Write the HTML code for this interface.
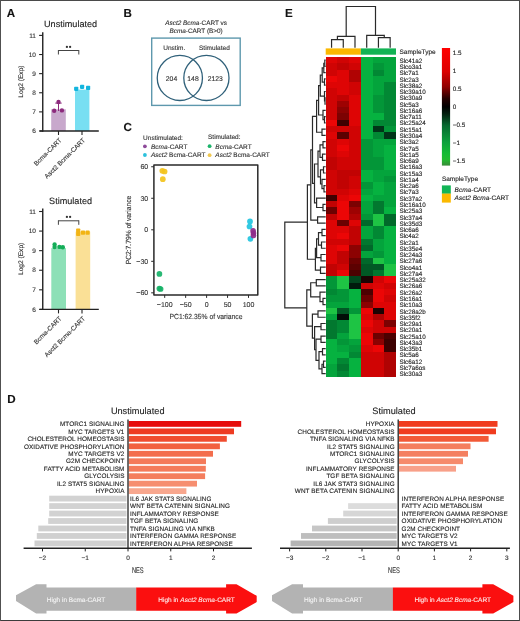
<!DOCTYPE html>
<html><head><meta charset="utf-8"><title>Figure</title>
<style>
html,body{margin:0;padding:0;background:#fff;}
body{width:520px;height:621px;overflow:hidden;}
svg{display:block;will-change:transform;}
svg text{font-family:"Liberation Sans", sans-serif;text-rendering:geometricPrecision;}
</style></head><body>
<svg width="520" height="621" viewBox="0 0 520 621" font-family="Liberation Sans, sans-serif">
<rect x="0.00" y="0.00" width="520.00" height="621.00" fill="#ffffff" />
<rect x="0.00" y="0.00" width="520.00" height="1.00" fill="#4a4a4a" />
<rect x="0.00" y="620.00" width="520.00" height="1.00" fill="#3c3c3c" />
<rect x="0.00" y="0.00" width="1.00" height="621.00" fill="#505050" />
<rect x="519.00" y="0.00" width="1.00" height="621.00" fill="#4c4c4c" />
<text x="6.70" y="16.60" font-size="11.6" text-anchor="start" font-weight="bold" font-style="normal" fill="#111"  stroke="#111" stroke-width="0.12">A</text>
<text x="123.60" y="16.80" font-size="11.6" text-anchor="start" font-weight="bold" font-style="normal" fill="#111"  stroke="#111" stroke-width="0.12">B</text>
<text x="123.60" y="131.20" font-size="11.6" text-anchor="start" font-weight="bold" font-style="normal" fill="#111"  stroke="#111" stroke-width="0.12">C</text>
<text x="7.20" y="403.20" font-size="11.6" text-anchor="start" font-weight="bold" font-style="normal" fill="#111"  stroke="#111" stroke-width="0.12">D</text>
<text x="285.00" y="16.70" font-size="11.6" text-anchor="start" font-weight="bold" font-style="normal" fill="#111"  stroke="#111" stroke-width="0.12">E</text>
<text x="70.60" y="26.90" font-size="9.1" text-anchor="middle" font-weight="normal" font-style="normal" fill="#222"  stroke="#222" stroke-width="0.12">Unstimulated</text>
<rect x="51.20" y="109.30" width="14.60" height="21.70" fill="#c8a8cc" />
<rect x="75.00" y="89.61" width="14.40" height="41.39" fill="#78dff2" />
<circle cx="54.20" cy="110.70" r="2.20" fill="#8c2a7c" />
<circle cx="61.90" cy="110.40" r="2.20" fill="#8c2a7c" />
<circle cx="58.50" cy="102.00" r="2.20" fill="#8c2a7c" />
<rect x="74.10" y="86.70" width="4.2" height="4.2" rx="0.8" fill="#14b5de"/>
<rect x="80.00" y="84.70" width="4.2" height="4.2" rx="0.8" fill="#14b5de"/>
<rect x="86.00" y="85.80" width="4.2" height="4.2" rx="0.8" fill="#14b5de"/>
<line x1="58.50" y1="103.10" x2="58.50" y2="111.00" stroke="#8c2a7c" stroke-width="1.0" />
<line x1="55.30" y1="103.10" x2="61.70" y2="103.10" stroke="#8c2a7c" stroke-width="1.0" />
<line x1="42.75" y1="32.30" x2="42.75" y2="131.70" stroke="#222" stroke-width="1.4" />
<line x1="39.60" y1="131.00" x2="98.80" y2="131.00" stroke="#222" stroke-width="1.4" />
<line x1="39.10" y1="131.00" x2="42.75" y2="131.00" stroke="#222" stroke-width="1.1" />
<text x="35.90" y="133.20" font-size="6.5" text-anchor="end" font-weight="normal" font-style="normal" fill="#333"  stroke="#333" stroke-width="0.12">6</text>
<line x1="39.10" y1="111.88" x2="42.75" y2="111.88" stroke="#222" stroke-width="1.1" />
<text x="35.90" y="114.08" font-size="6.5" text-anchor="end" font-weight="normal" font-style="normal" fill="#333"  stroke="#333" stroke-width="0.12">7</text>
<line x1="39.10" y1="92.76" x2="42.75" y2="92.76" stroke="#222" stroke-width="1.1" />
<text x="35.90" y="94.96" font-size="6.5" text-anchor="end" font-weight="normal" font-style="normal" fill="#333"  stroke="#333" stroke-width="0.12">8</text>
<line x1="39.10" y1="73.64" x2="42.75" y2="73.64" stroke="#222" stroke-width="1.1" />
<text x="35.90" y="75.84" font-size="6.5" text-anchor="end" font-weight="normal" font-style="normal" fill="#333"  stroke="#333" stroke-width="0.12">9</text>
<line x1="39.10" y1="54.52" x2="42.75" y2="54.52" stroke="#222" stroke-width="1.1" />
<text x="35.90" y="56.72" font-size="6.5" text-anchor="end" font-weight="normal" font-style="normal" fill="#333"  stroke="#333" stroke-width="0.12">10</text>
<line x1="39.10" y1="35.40" x2="42.75" y2="35.40" stroke="#222" stroke-width="1.1" />
<text x="35.90" y="37.60" font-size="6.5" text-anchor="end" font-weight="normal" font-style="normal" fill="#333"  stroke="#333" stroke-width="0.12">11</text>
<line x1="58.50" y1="131.00" x2="58.50" y2="135.00" stroke="#222" stroke-width="1.1" />
<line x1="82.00" y1="131.00" x2="82.00" y2="135.00" stroke="#222" stroke-width="1.1" />
<line x1="58.40" y1="50.50" x2="78.80" y2="50.50" stroke="#444" stroke-width="1.0" />
<line x1="58.40" y1="50.00" x2="58.40" y2="54.50" stroke="#444" stroke-width="1.0" />
<line x1="78.80" y1="50.00" x2="78.80" y2="54.50" stroke="#444" stroke-width="1.0" />
<circle cx="66.90" cy="46.90" r="1.15" fill="#333" />
<circle cx="70.10" cy="46.90" r="1.15" fill="#333" />
<text transform="translate(22.9,81.60) rotate(-90)" font-size="6.6" text-anchor="middle" fill="#333" stroke="#333" stroke-width="0.12">Log2 (Exp)</text>
<text transform="translate(62.10,140.60) rotate(-45)" font-size="6.5" text-anchor="end" fill="#333" stroke="#333" stroke-width="0.12">Bcma-CART</text>
<text transform="translate(85.60,140.60) rotate(-45)" font-size="6.5" text-anchor="end" fill="#333" stroke="#333" stroke-width="0.12">Asct2 Bcma-CART</text>
<text x="70.60" y="203.50" font-size="9.1" text-anchor="middle" font-weight="normal" font-style="normal" fill="#222"  stroke="#222" stroke-width="0.12">Stimulated</text>
<rect x="51.30" y="248.11" width="14.70" height="61.29" fill="#8de0b7" />
<rect x="75.60" y="231.67" width="14.60" height="77.73" fill="#fae096" />
<circle cx="54.60" cy="244.40" r="2.20" fill="#14ad58" />
<circle cx="54.60" cy="247.10" r="2.20" fill="#14ad58" />
<circle cx="59.40" cy="246.90" r="2.20" fill="#14ad58" />
<circle cx="62.80" cy="247.30" r="2.20" fill="#14ad58" />
<rect x="76.10" y="228.50" width="4.2" height="4.2" rx="0.8" fill="#f2b414"/>
<rect x="76.10" y="231.90" width="4.2" height="4.2" rx="0.8" fill="#f2b414"/>
<rect x="80.90" y="230.60" width="4.2" height="4.2" rx="0.8" fill="#f2b414"/>
<rect x="85.50" y="230.60" width="4.2" height="4.2" rx="0.8" fill="#f2b414"/>
<line x1="42.75" y1="208.40" x2="42.75" y2="310.10" stroke="#222" stroke-width="1.4" />
<line x1="39.60" y1="309.40" x2="98.80" y2="309.40" stroke="#222" stroke-width="1.4" />
<line x1="39.10" y1="309.40" x2="42.75" y2="309.40" stroke="#222" stroke-width="1.1" />
<text x="35.90" y="311.60" font-size="6.5" text-anchor="end" font-weight="normal" font-style="normal" fill="#333"  stroke="#333" stroke-width="0.12">6</text>
<line x1="39.10" y1="289.82" x2="42.75" y2="289.82" stroke="#222" stroke-width="1.1" />
<text x="35.90" y="292.02" font-size="6.5" text-anchor="end" font-weight="normal" font-style="normal" fill="#333"  stroke="#333" stroke-width="0.12">7</text>
<line x1="39.10" y1="270.24" x2="42.75" y2="270.24" stroke="#222" stroke-width="1.1" />
<text x="35.90" y="272.44" font-size="6.5" text-anchor="end" font-weight="normal" font-style="normal" fill="#333"  stroke="#333" stroke-width="0.12">8</text>
<line x1="39.10" y1="250.66" x2="42.75" y2="250.66" stroke="#222" stroke-width="1.1" />
<text x="35.90" y="252.86" font-size="6.5" text-anchor="end" font-weight="normal" font-style="normal" fill="#333"  stroke="#333" stroke-width="0.12">9</text>
<line x1="39.10" y1="231.08" x2="42.75" y2="231.08" stroke="#222" stroke-width="1.1" />
<text x="35.90" y="233.28" font-size="6.5" text-anchor="end" font-weight="normal" font-style="normal" fill="#333"  stroke="#333" stroke-width="0.12">10</text>
<line x1="39.10" y1="211.50" x2="42.75" y2="211.50" stroke="#222" stroke-width="1.1" />
<text x="35.90" y="213.70" font-size="6.5" text-anchor="end" font-weight="normal" font-style="normal" fill="#333"  stroke="#333" stroke-width="0.12">11</text>
<line x1="58.50" y1="309.40" x2="58.50" y2="313.40" stroke="#222" stroke-width="1.1" />
<line x1="82.00" y1="309.40" x2="82.00" y2="313.40" stroke="#222" stroke-width="1.1" />
<line x1="58.40" y1="220.80" x2="78.80" y2="220.80" stroke="#444" stroke-width="1.0" />
<line x1="58.40" y1="220.30" x2="58.40" y2="224.80" stroke="#444" stroke-width="1.0" />
<line x1="78.80" y1="220.30" x2="78.80" y2="224.80" stroke="#444" stroke-width="1.0" />
<circle cx="66.90" cy="216.90" r="1.15" fill="#333" />
<circle cx="70.10" cy="216.90" r="1.15" fill="#333" />
<text transform="translate(22.9,258.85) rotate(-90)" font-size="6.6" text-anchor="middle" fill="#333" stroke="#333" stroke-width="0.12">Log2 (Exp)</text>
<text transform="translate(62.10,319.00) rotate(-45)" font-size="6.5" text-anchor="end" fill="#333" stroke="#333" stroke-width="0.12">Bcma-CART</text>
<text transform="translate(85.60,319.00) rotate(-45)" font-size="6.5" text-anchor="end" fill="#333" stroke="#333" stroke-width="0.12">Asct2 Bcma-CART</text>
<text x="196.1" y="25.2" font-size="6.4" text-anchor="middle" fill="#333" stroke="#333" stroke-width="0.12"><tspan font-style="italic">Asct2 Bcma</tspan>-CART vs</text>
<text x="196.1" y="33.0" font-size="6.4" text-anchor="middle" fill="#333" stroke="#333" stroke-width="0.12"><tspan font-style="italic">Bcma</tspan>-CART (B&gt;0)</text>
<rect x="151.7" y="38.1" width="88.5" height="67.3" fill="none" stroke="#5e98ad" stroke-width="1.4"/>
<circle cx="179.85" cy="77.9" r="22.6" fill="none" stroke="#30617a" stroke-width="1.3"/>
<circle cx="206.4" cy="77.9" r="22.6" fill="none" stroke="#30617a" stroke-width="1.3"/>
<text x="174.30" y="49.80" font-size="6.5" text-anchor="middle" font-weight="normal" font-style="normal" fill="#333"  stroke="#333" stroke-width="0.12">Unstim.</text>
<text x="214.40" y="49.80" font-size="6.5" text-anchor="middle" font-weight="normal" font-style="normal" fill="#333"  stroke="#333" stroke-width="0.12">Stimulated</text>
<text x="171.50" y="81.00" font-size="6.8" text-anchor="middle" font-weight="normal" font-style="normal" fill="#333"  stroke="#333" stroke-width="0.12">204</text>
<text x="193.00" y="81.00" font-size="6.8" text-anchor="middle" font-weight="normal" font-style="normal" fill="#333"  stroke="#333" stroke-width="0.12">148</text>
<text x="215.20" y="81.00" font-size="6.8" text-anchor="middle" font-weight="normal" font-style="normal" fill="#333"  stroke="#333" stroke-width="0.12">2123</text>
<text x="143.10" y="139.60" font-size="6.5" text-anchor="start" font-weight="normal" font-style="normal" fill="#333"  stroke="#333" stroke-width="0.12">Unstimulated:</text>
<circle cx="144.90" cy="146.30" r="1.90" fill="#8e4a9a" />
<text x="151" y="148.6" font-size="6.5" fill="#333" stroke="#333" stroke-width="0.12"><tspan font-style="italic">Bcma</tspan>-CART</text>
<circle cx="144.90" cy="155.00" r="1.90" fill="#2cc1dc" />
<text x="151" y="157.2" font-size="6.5" fill="#333" stroke="#333" stroke-width="0.12"><tspan font-style="italic">Asct2</tspan> Bcma-CART</text>
<text x="208.00" y="139.40" font-size="6.5" text-anchor="start" font-weight="normal" font-style="normal" fill="#333"  stroke="#333" stroke-width="0.12">Stimulated:</text>
<circle cx="209.60" cy="146.20" r="1.90" fill="#1db46c" />
<text x="215.3" y="148.6" font-size="6.5" fill="#333" stroke="#333" stroke-width="0.12"><tspan font-style="italic">Bcma</tspan>-CART</text>
<circle cx="209.60" cy="155.20" r="1.90" fill="#f0c850" />
<text x="215.3" y="157.2" font-size="6.5" fill="#333" stroke="#333" stroke-width="0.12"><tspan font-style="italic">Asct2</tspan> Bcma-CART</text>
<circle cx="162.30" cy="170.80" r="2.85" fill="#f3c31c" fill-opacity="0.92"/>
<circle cx="164.60" cy="171.50" r="2.85" fill="#f3c31c" fill-opacity="0.92"/>
<circle cx="162.80" cy="179.20" r="2.85" fill="#f3c31c" fill-opacity="0.92"/>
<circle cx="159.40" cy="273.90" r="2.85" fill="#17b268" fill-opacity="0.92"/>
<circle cx="159.40" cy="288.60" r="2.85" fill="#17b268" fill-opacity="0.92"/>
<circle cx="160.60" cy="289.00" r="2.85" fill="#17b268" fill-opacity="0.92"/>
<circle cx="250.00" cy="221.40" r="2.85" fill="#22c4df" fill-opacity="0.92"/>
<circle cx="249.50" cy="226.50" r="2.85" fill="#22c4df" fill-opacity="0.92"/>
<circle cx="250.40" cy="238.80" r="2.85" fill="#22c4df" fill-opacity="0.92"/>
<circle cx="253.10" cy="230.80" r="2.85" fill="#8e2b8a" fill-opacity="0.92"/>
<circle cx="253.50" cy="233.00" r="2.85" fill="#8e2b8a" fill-opacity="0.92"/>
<circle cx="253.50" cy="235.40" r="2.85" fill="#8e2b8a" fill-opacity="0.92"/>
<rect x="153.9" y="164.9" width="103.9" height="130.0" fill="none" stroke="#2a2a2a" stroke-width="1.5" stroke-linejoin="round"/>
<line x1="151.20" y1="166.76" x2="153.90" y2="166.76" stroke="#2a2a2a" stroke-width="1.0" />
<text x="148.20" y="169.16" font-size="7.0" text-anchor="end" font-weight="normal" font-style="normal" fill="#333"  stroke="#333" stroke-width="0.12">60</text>
<line x1="151.20" y1="198.28" x2="153.90" y2="198.28" stroke="#2a2a2a" stroke-width="1.0" />
<text x="148.20" y="200.68" font-size="7.0" text-anchor="end" font-weight="normal" font-style="normal" fill="#333"  stroke="#333" stroke-width="0.12">30</text>
<line x1="151.20" y1="229.80" x2="153.90" y2="229.80" stroke="#2a2a2a" stroke-width="1.0" />
<text x="148.20" y="232.20" font-size="7.0" text-anchor="end" font-weight="normal" font-style="normal" fill="#333"  stroke="#333" stroke-width="0.12">0</text>
<line x1="151.20" y1="261.32" x2="153.90" y2="261.32" stroke="#2a2a2a" stroke-width="1.0" />
<text x="148.20" y="263.72" font-size="7.0" text-anchor="end" font-weight="normal" font-style="normal" fill="#333"  stroke="#333" stroke-width="0.12">&#8722;30</text>
<line x1="151.20" y1="292.84" x2="153.90" y2="292.84" stroke="#2a2a2a" stroke-width="1.0" />
<text x="148.20" y="295.24" font-size="7.0" text-anchor="end" font-weight="normal" font-style="normal" fill="#333"  stroke="#333" stroke-width="0.12">&#8722;60</text>
<line x1="164.70" y1="294.90" x2="164.70" y2="297.90" stroke="#2a2a2a" stroke-width="1.0" />
<text x="164.70" y="307.40" font-size="7.0" text-anchor="middle" font-weight="normal" font-style="normal" fill="#333"  stroke="#333" stroke-width="0.12">&#8722;100</text>
<line x1="185.65" y1="294.90" x2="185.65" y2="297.90" stroke="#2a2a2a" stroke-width="1.0" />
<text x="185.65" y="307.40" font-size="7.0" text-anchor="middle" font-weight="normal" font-style="normal" fill="#333"  stroke="#333" stroke-width="0.12">&#8722;50</text>
<line x1="206.60" y1="294.90" x2="206.60" y2="297.90" stroke="#2a2a2a" stroke-width="1.0" />
<text x="206.60" y="307.40" font-size="7.0" text-anchor="middle" font-weight="normal" font-style="normal" fill="#333"  stroke="#333" stroke-width="0.12">0</text>
<line x1="227.55" y1="294.90" x2="227.55" y2="297.90" stroke="#2a2a2a" stroke-width="1.0" />
<text x="227.55" y="307.40" font-size="7.0" text-anchor="middle" font-weight="normal" font-style="normal" fill="#333"  stroke="#333" stroke-width="0.12">50</text>
<line x1="248.50" y1="294.90" x2="248.50" y2="297.90" stroke="#2a2a2a" stroke-width="1.0" />
<text x="248.50" y="307.40" font-size="7.0" text-anchor="middle" font-weight="normal" font-style="normal" fill="#333"  stroke="#333" stroke-width="0.12">100</text>
<text x="206.0" y="318.6" font-size="7.4" text-anchor="middle" fill="#333" textLength="73" lengthAdjust="spacingAndGlyphs" stroke="#333" stroke-width="0.12">PC1:62.35% of variance</text>
<text transform="translate(130.6,230.0) rotate(-90)" font-size="7.4" text-anchor="middle" fill="#333" textLength="68.7" lengthAdjust="spacingAndGlyphs" stroke="#333" stroke-width="0.12">PC2:7.79% of variance</text>
<rect x="325.70" y="57.00" width="12.32" height="6.87" fill="#de0505" shape-rendering="crispEdges"/>
<rect x="337.42" y="57.00" width="12.32" height="6.87" fill="#d00404" shape-rendering="crispEdges"/>
<rect x="349.13" y="57.00" width="12.32" height="6.87" fill="#de0505" shape-rendering="crispEdges"/>
<rect x="360.85" y="57.00" width="12.32" height="6.87" fill="#06b240" shape-rendering="crispEdges"/>
<rect x="372.57" y="57.00" width="12.32" height="6.87" fill="#04a43c" shape-rendering="crispEdges"/>
<rect x="384.28" y="57.00" width="11.72" height="6.87" fill="#04a43c" shape-rendering="crispEdges"/>
<rect x="325.70" y="63.27" width="12.32" height="6.87" fill="#d00404" shape-rendering="crispEdges"/>
<rect x="337.42" y="63.27" width="12.32" height="6.87" fill="#c10303" shape-rendering="crispEdges"/>
<rect x="349.13" y="63.27" width="12.32" height="6.87" fill="#d00404" shape-rendering="crispEdges"/>
<rect x="360.85" y="63.27" width="12.32" height="6.87" fill="#06b240" shape-rendering="crispEdges"/>
<rect x="372.57" y="63.27" width="12.32" height="6.87" fill="#039638" shape-rendering="crispEdges"/>
<rect x="384.28" y="63.27" width="11.72" height="6.87" fill="#04a43c" shape-rendering="crispEdges"/>
<rect x="325.70" y="69.54" width="12.32" height="6.87" fill="#d00404" shape-rendering="crispEdges"/>
<rect x="337.42" y="69.54" width="12.32" height="6.87" fill="#de0505" shape-rendering="crispEdges"/>
<rect x="349.13" y="69.54" width="12.32" height="6.87" fill="#b00303" shape-rendering="crispEdges"/>
<rect x="360.85" y="69.54" width="12.32" height="6.87" fill="#06b240" shape-rendering="crispEdges"/>
<rect x="372.57" y="69.54" width="12.32" height="6.87" fill="#028834" shape-rendering="crispEdges"/>
<rect x="384.28" y="69.54" width="11.72" height="6.87" fill="#04a43c" shape-rendering="crispEdges"/>
<rect x="325.70" y="75.81" width="12.32" height="6.87" fill="#ec0606" shape-rendering="crispEdges"/>
<rect x="337.42" y="75.81" width="12.32" height="6.87" fill="#de0505" shape-rendering="crispEdges"/>
<rect x="349.13" y="75.81" width="12.32" height="6.87" fill="#b00303" shape-rendering="crispEdges"/>
<rect x="360.85" y="75.81" width="12.32" height="6.87" fill="#06b240" shape-rendering="crispEdges"/>
<rect x="372.57" y="75.81" width="12.32" height="6.87" fill="#04a43c" shape-rendering="crispEdges"/>
<rect x="384.28" y="75.81" width="11.72" height="6.87" fill="#04a43c" shape-rendering="crispEdges"/>
<rect x="325.70" y="82.08" width="12.32" height="6.87" fill="#de0505" shape-rendering="crispEdges"/>
<rect x="337.42" y="82.08" width="12.32" height="6.87" fill="#de0505" shape-rendering="crispEdges"/>
<rect x="349.13" y="82.08" width="12.32" height="6.87" fill="#d00404" shape-rendering="crispEdges"/>
<rect x="360.85" y="82.08" width="12.32" height="6.87" fill="#06b240" shape-rendering="crispEdges"/>
<rect x="372.57" y="82.08" width="12.32" height="6.87" fill="#04a43c" shape-rendering="crispEdges"/>
<rect x="384.28" y="82.08" width="11.72" height="6.87" fill="#028834" shape-rendering="crispEdges"/>
<rect x="325.70" y="88.35" width="12.32" height="6.87" fill="#d00404" shape-rendering="crispEdges"/>
<rect x="337.42" y="88.35" width="12.32" height="6.87" fill="#de0505" shape-rendering="crispEdges"/>
<rect x="349.13" y="88.35" width="12.32" height="6.87" fill="#d00404" shape-rendering="crispEdges"/>
<rect x="360.85" y="88.35" width="12.32" height="6.87" fill="#06b240" shape-rendering="crispEdges"/>
<rect x="372.57" y="88.35" width="12.32" height="6.87" fill="#04a43c" shape-rendering="crispEdges"/>
<rect x="384.28" y="88.35" width="11.72" height="6.87" fill="#028834" shape-rendering="crispEdges"/>
<rect x="325.70" y="94.62" width="12.32" height="6.87" fill="#d00404" shape-rendering="crispEdges"/>
<rect x="337.42" y="94.62" width="12.32" height="6.87" fill="#c10303" shape-rendering="crispEdges"/>
<rect x="349.13" y="94.62" width="12.32" height="6.87" fill="#de0505" shape-rendering="crispEdges"/>
<rect x="360.85" y="94.62" width="12.32" height="6.87" fill="#06b240" shape-rendering="crispEdges"/>
<rect x="372.57" y="94.62" width="12.32" height="6.87" fill="#039638" shape-rendering="crispEdges"/>
<rect x="384.28" y="94.62" width="11.72" height="6.87" fill="#028834" shape-rendering="crispEdges"/>
<rect x="325.70" y="100.89" width="12.32" height="6.87" fill="#d00404" shape-rendering="crispEdges"/>
<rect x="337.42" y="100.89" width="12.32" height="6.87" fill="#9e0202" shape-rendering="crispEdges"/>
<rect x="349.13" y="100.89" width="12.32" height="6.87" fill="#de0505" shape-rendering="crispEdges"/>
<rect x="360.85" y="100.89" width="12.32" height="6.87" fill="#06b240" shape-rendering="crispEdges"/>
<rect x="372.57" y="100.89" width="12.32" height="6.87" fill="#039638" shape-rendering="crispEdges"/>
<rect x="384.28" y="100.89" width="11.72" height="6.87" fill="#028834" shape-rendering="crispEdges"/>
<rect x="325.70" y="107.16" width="12.32" height="6.87" fill="#d00404" shape-rendering="crispEdges"/>
<rect x="337.42" y="107.16" width="12.32" height="6.87" fill="#8c0202" shape-rendering="crispEdges"/>
<rect x="349.13" y="107.16" width="12.32" height="6.87" fill="#de0505" shape-rendering="crispEdges"/>
<rect x="360.85" y="107.16" width="12.32" height="6.87" fill="#06b240" shape-rendering="crispEdges"/>
<rect x="372.57" y="107.16" width="12.32" height="6.87" fill="#039638" shape-rendering="crispEdges"/>
<rect x="384.28" y="107.16" width="11.72" height="6.87" fill="#028834" shape-rendering="crispEdges"/>
<rect x="325.70" y="113.44" width="12.32" height="6.87" fill="#d00404" shape-rendering="crispEdges"/>
<rect x="337.42" y="113.44" width="12.32" height="6.87" fill="#7c0202" shape-rendering="crispEdges"/>
<rect x="349.13" y="113.44" width="12.32" height="6.87" fill="#de0505" shape-rendering="crispEdges"/>
<rect x="360.85" y="113.44" width="12.32" height="6.87" fill="#06b240" shape-rendering="crispEdges"/>
<rect x="372.57" y="113.44" width="12.32" height="6.87" fill="#06b240" shape-rendering="crispEdges"/>
<rect x="384.28" y="113.44" width="11.72" height="6.87" fill="#028834" shape-rendering="crispEdges"/>
<rect x="325.70" y="119.71" width="12.32" height="6.87" fill="#ec0606" shape-rendering="crispEdges"/>
<rect x="337.42" y="119.71" width="12.32" height="6.87" fill="#3e0101" shape-rendering="crispEdges"/>
<rect x="349.13" y="119.71" width="12.32" height="6.87" fill="#de0505" shape-rendering="crispEdges"/>
<rect x="360.85" y="119.71" width="12.32" height="6.87" fill="#06b240" shape-rendering="crispEdges"/>
<rect x="372.57" y="119.71" width="12.32" height="6.87" fill="#028834" shape-rendering="crispEdges"/>
<rect x="384.28" y="119.71" width="11.72" height="6.87" fill="#028834" shape-rendering="crispEdges"/>
<rect x="325.70" y="125.98" width="12.32" height="6.87" fill="#d00404" shape-rendering="crispEdges"/>
<rect x="337.42" y="125.98" width="12.32" height="6.87" fill="#d00404" shape-rendering="crispEdges"/>
<rect x="349.13" y="125.98" width="12.32" height="6.87" fill="#d00404" shape-rendering="crispEdges"/>
<rect x="360.85" y="125.98" width="12.32" height="6.87" fill="#06b240" shape-rendering="crispEdges"/>
<rect x="372.57" y="125.98" width="12.32" height="6.87" fill="#013418" shape-rendering="crispEdges"/>
<rect x="384.28" y="125.98" width="11.72" height="6.87" fill="#039638" shape-rendering="crispEdges"/>
<rect x="325.70" y="132.25" width="12.32" height="6.87" fill="#de0505" shape-rendering="crispEdges"/>
<rect x="337.42" y="132.25" width="12.32" height="6.87" fill="#5c0101" shape-rendering="crispEdges"/>
<rect x="349.13" y="132.25" width="12.32" height="6.87" fill="#d00404" shape-rendering="crispEdges"/>
<rect x="360.85" y="132.25" width="12.32" height="6.87" fill="#06b240" shape-rendering="crispEdges"/>
<rect x="372.57" y="132.25" width="12.32" height="6.87" fill="#028834" shape-rendering="crispEdges"/>
<rect x="384.28" y="132.25" width="11.72" height="6.87" fill="#013418" shape-rendering="crispEdges"/>
<rect x="325.70" y="138.52" width="12.32" height="6.87" fill="#d00404" shape-rendering="crispEdges"/>
<rect x="337.42" y="138.52" width="12.32" height="6.87" fill="#de0505" shape-rendering="crispEdges"/>
<rect x="349.13" y="138.52" width="12.32" height="6.87" fill="#d00404" shape-rendering="crispEdges"/>
<rect x="360.85" y="138.52" width="12.32" height="6.87" fill="#039638" shape-rendering="crispEdges"/>
<rect x="372.57" y="138.52" width="12.32" height="6.87" fill="#04a43c" shape-rendering="crispEdges"/>
<rect x="384.28" y="138.52" width="11.72" height="6.87" fill="#04a43c" shape-rendering="crispEdges"/>
<rect x="325.70" y="144.79" width="12.32" height="6.87" fill="#d00404" shape-rendering="crispEdges"/>
<rect x="337.42" y="144.79" width="12.32" height="6.87" fill="#ec0606" shape-rendering="crispEdges"/>
<rect x="349.13" y="144.79" width="12.32" height="6.87" fill="#d00404" shape-rendering="crispEdges"/>
<rect x="360.85" y="144.79" width="12.32" height="6.87" fill="#039638" shape-rendering="crispEdges"/>
<rect x="372.57" y="144.79" width="12.32" height="6.87" fill="#04a43c" shape-rendering="crispEdges"/>
<rect x="384.28" y="144.79" width="11.72" height="6.87" fill="#06b240" shape-rendering="crispEdges"/>
<rect x="325.70" y="151.06" width="12.32" height="6.87" fill="#d00404" shape-rendering="crispEdges"/>
<rect x="337.42" y="151.06" width="12.32" height="6.87" fill="#de0505" shape-rendering="crispEdges"/>
<rect x="349.13" y="151.06" width="12.32" height="6.87" fill="#d00404" shape-rendering="crispEdges"/>
<rect x="360.85" y="151.06" width="12.32" height="6.87" fill="#039638" shape-rendering="crispEdges"/>
<rect x="372.57" y="151.06" width="12.32" height="6.87" fill="#04a43c" shape-rendering="crispEdges"/>
<rect x="384.28" y="151.06" width="11.72" height="6.87" fill="#06b240" shape-rendering="crispEdges"/>
<rect x="325.70" y="157.33" width="12.32" height="6.87" fill="#c10303" shape-rendering="crispEdges"/>
<rect x="337.42" y="157.33" width="12.32" height="6.87" fill="#d00404" shape-rendering="crispEdges"/>
<rect x="349.13" y="157.33" width="12.32" height="6.87" fill="#d00404" shape-rendering="crispEdges"/>
<rect x="360.85" y="157.33" width="12.32" height="6.87" fill="#039638" shape-rendering="crispEdges"/>
<rect x="372.57" y="157.33" width="12.32" height="6.87" fill="#039638" shape-rendering="crispEdges"/>
<rect x="384.28" y="157.33" width="11.72" height="6.87" fill="#06b240" shape-rendering="crispEdges"/>
<rect x="325.70" y="163.60" width="12.32" height="6.87" fill="#c10303" shape-rendering="crispEdges"/>
<rect x="337.42" y="163.60" width="12.32" height="6.87" fill="#d00404" shape-rendering="crispEdges"/>
<rect x="349.13" y="163.60" width="12.32" height="6.87" fill="#d00404" shape-rendering="crispEdges"/>
<rect x="360.85" y="163.60" width="12.32" height="6.87" fill="#039638" shape-rendering="crispEdges"/>
<rect x="372.57" y="163.60" width="12.32" height="6.87" fill="#039638" shape-rendering="crispEdges"/>
<rect x="384.28" y="163.60" width="11.72" height="6.87" fill="#06b240" shape-rendering="crispEdges"/>
<rect x="325.70" y="169.87" width="12.32" height="6.87" fill="#d00404" shape-rendering="crispEdges"/>
<rect x="337.42" y="169.87" width="12.32" height="6.87" fill="#c10303" shape-rendering="crispEdges"/>
<rect x="349.13" y="169.87" width="12.32" height="6.87" fill="#c10303" shape-rendering="crispEdges"/>
<rect x="360.85" y="169.87" width="12.32" height="6.87" fill="#06b240" shape-rendering="crispEdges"/>
<rect x="372.57" y="169.87" width="12.32" height="6.87" fill="#04a43c" shape-rendering="crispEdges"/>
<rect x="384.28" y="169.87" width="11.72" height="6.87" fill="#04a43c" shape-rendering="crispEdges"/>
<rect x="325.70" y="176.14" width="12.32" height="6.87" fill="#d00404" shape-rendering="crispEdges"/>
<rect x="337.42" y="176.14" width="12.32" height="6.87" fill="#c10303" shape-rendering="crispEdges"/>
<rect x="349.13" y="176.14" width="12.32" height="6.87" fill="#d00404" shape-rendering="crispEdges"/>
<rect x="360.85" y="176.14" width="12.32" height="6.87" fill="#06b240" shape-rendering="crispEdges"/>
<rect x="372.57" y="176.14" width="12.32" height="6.87" fill="#04a43c" shape-rendering="crispEdges"/>
<rect x="384.28" y="176.14" width="11.72" height="6.87" fill="#039638" shape-rendering="crispEdges"/>
<rect x="325.70" y="182.41" width="12.32" height="6.87" fill="#d00404" shape-rendering="crispEdges"/>
<rect x="337.42" y="182.41" width="12.32" height="6.87" fill="#c10303" shape-rendering="crispEdges"/>
<rect x="349.13" y="182.41" width="12.32" height="6.87" fill="#d00404" shape-rendering="crispEdges"/>
<rect x="360.85" y="182.41" width="12.32" height="6.87" fill="#039638" shape-rendering="crispEdges"/>
<rect x="372.57" y="182.41" width="12.32" height="6.87" fill="#06b240" shape-rendering="crispEdges"/>
<rect x="384.28" y="182.41" width="11.72" height="6.87" fill="#04a43c" shape-rendering="crispEdges"/>
<rect x="325.70" y="188.68" width="12.32" height="6.87" fill="#d00404" shape-rendering="crispEdges"/>
<rect x="337.42" y="188.68" width="12.32" height="6.87" fill="#d00404" shape-rendering="crispEdges"/>
<rect x="349.13" y="188.68" width="12.32" height="6.87" fill="#de0505" shape-rendering="crispEdges"/>
<rect x="360.85" y="188.68" width="12.32" height="6.87" fill="#04a43c" shape-rendering="crispEdges"/>
<rect x="372.57" y="188.68" width="12.32" height="6.87" fill="#06b240" shape-rendering="crispEdges"/>
<rect x="384.28" y="188.68" width="11.72" height="6.87" fill="#04a43c" shape-rendering="crispEdges"/>
<rect x="325.70" y="194.95" width="12.32" height="6.87" fill="#3e0101" shape-rendering="crispEdges"/>
<rect x="337.42" y="194.95" width="12.32" height="6.87" fill="#de0505" shape-rendering="crispEdges"/>
<rect x="349.13" y="194.95" width="12.32" height="6.87" fill="#ec0606" shape-rendering="crispEdges"/>
<rect x="360.85" y="194.95" width="12.32" height="6.87" fill="#06b240" shape-rendering="crispEdges"/>
<rect x="372.57" y="194.95" width="12.32" height="6.87" fill="#04a43c" shape-rendering="crispEdges"/>
<rect x="384.28" y="194.95" width="11.72" height="6.87" fill="#04a43c" shape-rendering="crispEdges"/>
<rect x="325.70" y="201.22" width="12.32" height="6.87" fill="#c10303" shape-rendering="crispEdges"/>
<rect x="337.42" y="201.22" width="12.32" height="6.87" fill="#ec0606" shape-rendering="crispEdges"/>
<rect x="349.13" y="201.22" width="12.32" height="6.87" fill="#7c0202" shape-rendering="crispEdges"/>
<rect x="360.85" y="201.22" width="12.32" height="6.87" fill="#04a43c" shape-rendering="crispEdges"/>
<rect x="372.57" y="201.22" width="12.32" height="6.87" fill="#02782f" shape-rendering="crispEdges"/>
<rect x="384.28" y="201.22" width="11.72" height="6.87" fill="#04a43c" shape-rendering="crispEdges"/>
<rect x="325.70" y="207.49" width="12.32" height="6.87" fill="#6c0101" shape-rendering="crispEdges"/>
<rect x="337.42" y="207.49" width="12.32" height="6.87" fill="#ec0606" shape-rendering="crispEdges"/>
<rect x="349.13" y="207.49" width="12.32" height="6.87" fill="#9e0202" shape-rendering="crispEdges"/>
<rect x="360.85" y="207.49" width="12.32" height="6.87" fill="#04a43c" shape-rendering="crispEdges"/>
<rect x="372.57" y="207.49" width="12.32" height="6.87" fill="#02782f" shape-rendering="crispEdges"/>
<rect x="384.28" y="207.49" width="11.72" height="6.87" fill="#06b240" shape-rendering="crispEdges"/>
<rect x="325.70" y="213.76" width="12.32" height="6.87" fill="#c10303" shape-rendering="crispEdges"/>
<rect x="337.42" y="213.76" width="12.32" height="6.87" fill="#ec0606" shape-rendering="crispEdges"/>
<rect x="349.13" y="213.76" width="12.32" height="6.87" fill="#b00303" shape-rendering="crispEdges"/>
<rect x="360.85" y="213.76" width="12.32" height="6.87" fill="#039638" shape-rendering="crispEdges"/>
<rect x="372.57" y="213.76" width="12.32" height="6.87" fill="#1ec444" shape-rendering="crispEdges"/>
<rect x="384.28" y="213.76" width="11.72" height="6.87" fill="#01682a" shape-rendering="crispEdges"/>
<rect x="325.70" y="220.04" width="12.32" height="6.87" fill="#de0505" shape-rendering="crispEdges"/>
<rect x="337.42" y="220.04" width="12.32" height="6.87" fill="#6c0101" shape-rendering="crispEdges"/>
<rect x="349.13" y="220.04" width="12.32" height="6.87" fill="#de0505" shape-rendering="crispEdges"/>
<rect x="360.85" y="220.04" width="12.32" height="6.87" fill="#01682a" shape-rendering="crispEdges"/>
<rect x="372.57" y="220.04" width="12.32" height="6.87" fill="#1ec444" shape-rendering="crispEdges"/>
<rect x="384.28" y="220.04" width="11.72" height="6.87" fill="#01682a" shape-rendering="crispEdges"/>
<rect x="325.70" y="226.31" width="12.32" height="6.87" fill="#de0505" shape-rendering="crispEdges"/>
<rect x="337.42" y="226.31" width="12.32" height="6.87" fill="#de0505" shape-rendering="crispEdges"/>
<rect x="349.13" y="226.31" width="12.32" height="6.87" fill="#c10303" shape-rendering="crispEdges"/>
<rect x="360.85" y="226.31" width="12.32" height="6.87" fill="#04a43c" shape-rendering="crispEdges"/>
<rect x="372.57" y="226.31" width="12.32" height="6.87" fill="#028834" shape-rendering="crispEdges"/>
<rect x="384.28" y="226.31" width="11.72" height="6.87" fill="#06b240" shape-rendering="crispEdges"/>
<rect x="325.70" y="232.58" width="12.32" height="6.87" fill="#de0505" shape-rendering="crispEdges"/>
<rect x="337.42" y="232.58" width="12.32" height="6.87" fill="#ec0606" shape-rendering="crispEdges"/>
<rect x="349.13" y="232.58" width="12.32" height="6.87" fill="#c10303" shape-rendering="crispEdges"/>
<rect x="360.85" y="232.58" width="12.32" height="6.87" fill="#04a43c" shape-rendering="crispEdges"/>
<rect x="372.57" y="232.58" width="12.32" height="6.87" fill="#028834" shape-rendering="crispEdges"/>
<rect x="384.28" y="232.58" width="11.72" height="6.87" fill="#06b240" shape-rendering="crispEdges"/>
<rect x="325.70" y="238.85" width="12.32" height="6.87" fill="#d00404" shape-rendering="crispEdges"/>
<rect x="337.42" y="238.85" width="12.32" height="6.87" fill="#d00404" shape-rendering="crispEdges"/>
<rect x="349.13" y="238.85" width="12.32" height="6.87" fill="#c10303" shape-rendering="crispEdges"/>
<rect x="360.85" y="238.85" width="12.32" height="6.87" fill="#02782f" shape-rendering="crispEdges"/>
<rect x="372.57" y="238.85" width="12.32" height="6.87" fill="#04a43c" shape-rendering="crispEdges"/>
<rect x="384.28" y="238.85" width="11.72" height="6.87" fill="#06b240" shape-rendering="crispEdges"/>
<rect x="325.70" y="245.12" width="12.32" height="6.87" fill="#de0505" shape-rendering="crispEdges"/>
<rect x="337.42" y="245.12" width="12.32" height="6.87" fill="#ec0606" shape-rendering="crispEdges"/>
<rect x="349.13" y="245.12" width="12.32" height="6.87" fill="#8c0202" shape-rendering="crispEdges"/>
<rect x="360.85" y="245.12" width="12.32" height="6.87" fill="#01682a" shape-rendering="crispEdges"/>
<rect x="372.57" y="245.12" width="12.32" height="6.87" fill="#04a43c" shape-rendering="crispEdges"/>
<rect x="384.28" y="245.12" width="11.72" height="6.87" fill="#06b240" shape-rendering="crispEdges"/>
<rect x="325.70" y="251.39" width="12.32" height="6.87" fill="#de0505" shape-rendering="crispEdges"/>
<rect x="337.42" y="251.39" width="12.32" height="6.87" fill="#c10303" shape-rendering="crispEdges"/>
<rect x="349.13" y="251.39" width="12.32" height="6.87" fill="#8c0202" shape-rendering="crispEdges"/>
<rect x="360.85" y="251.39" width="12.32" height="6.87" fill="#04a43c" shape-rendering="crispEdges"/>
<rect x="372.57" y="251.39" width="12.32" height="6.87" fill="#039638" shape-rendering="crispEdges"/>
<rect x="384.28" y="251.39" width="11.72" height="6.87" fill="#06b240" shape-rendering="crispEdges"/>
<rect x="325.70" y="257.66" width="12.32" height="6.87" fill="#de0505" shape-rendering="crispEdges"/>
<rect x="337.42" y="257.66" width="12.32" height="6.87" fill="#c10303" shape-rendering="crispEdges"/>
<rect x="349.13" y="257.66" width="12.32" height="6.87" fill="#6c0101" shape-rendering="crispEdges"/>
<rect x="360.85" y="257.66" width="12.32" height="6.87" fill="#01682a" shape-rendering="crispEdges"/>
<rect x="372.57" y="257.66" width="12.32" height="6.87" fill="#1ec444" shape-rendering="crispEdges"/>
<rect x="384.28" y="257.66" width="11.72" height="6.87" fill="#06b240" shape-rendering="crispEdges"/>
<rect x="325.70" y="263.93" width="12.32" height="6.87" fill="#c10303" shape-rendering="crispEdges"/>
<rect x="337.42" y="263.93" width="12.32" height="6.87" fill="#d00404" shape-rendering="crispEdges"/>
<rect x="349.13" y="263.93" width="12.32" height="6.87" fill="#5c0101" shape-rendering="crispEdges"/>
<rect x="360.85" y="263.93" width="12.32" height="6.87" fill="#015825" shape-rendering="crispEdges"/>
<rect x="372.57" y="263.93" width="12.32" height="6.87" fill="#015825" shape-rendering="crispEdges"/>
<rect x="384.28" y="263.93" width="11.72" height="6.87" fill="#1ec444" shape-rendering="crispEdges"/>
<rect x="325.70" y="270.20" width="12.32" height="6.87" fill="#c10303" shape-rendering="crispEdges"/>
<rect x="337.42" y="270.20" width="12.32" height="6.87" fill="#ec0606" shape-rendering="crispEdges"/>
<rect x="349.13" y="270.20" width="12.32" height="6.87" fill="#4c0101" shape-rendering="crispEdges"/>
<rect x="360.85" y="270.20" width="12.32" height="6.87" fill="#015825" shape-rendering="crispEdges"/>
<rect x="372.57" y="270.20" width="12.32" height="6.87" fill="#02782f" shape-rendering="crispEdges"/>
<rect x="384.28" y="270.20" width="11.72" height="6.87" fill="#1ec444" shape-rendering="crispEdges"/>
<rect x="325.70" y="276.47" width="12.32" height="6.87" fill="#039638" shape-rendering="crispEdges"/>
<rect x="337.42" y="276.47" width="12.32" height="6.87" fill="#1ec444" shape-rendering="crispEdges"/>
<rect x="349.13" y="276.47" width="12.32" height="6.87" fill="#01461e" shape-rendering="crispEdges"/>
<rect x="360.85" y="276.47" width="12.32" height="6.87" fill="#1c0303" shape-rendering="crispEdges"/>
<rect x="372.57" y="276.47" width="12.32" height="6.87" fill="#d00404" shape-rendering="crispEdges"/>
<rect x="384.28" y="276.47" width="11.72" height="6.87" fill="#ec0606" shape-rendering="crispEdges"/>
<rect x="325.70" y="282.74" width="12.32" height="6.87" fill="#039638" shape-rendering="crispEdges"/>
<rect x="337.42" y="282.74" width="12.32" height="6.87" fill="#1ec444" shape-rendering="crispEdges"/>
<rect x="349.13" y="282.74" width="12.32" height="6.87" fill="#011a0d" shape-rendering="crispEdges"/>
<rect x="360.85" y="282.74" width="12.32" height="6.87" fill="#d00404" shape-rendering="crispEdges"/>
<rect x="372.57" y="282.74" width="12.32" height="6.87" fill="#de0505" shape-rendering="crispEdges"/>
<rect x="384.28" y="282.74" width="11.72" height="6.87" fill="#d00404" shape-rendering="crispEdges"/>
<rect x="325.70" y="289.01" width="12.32" height="6.87" fill="#028834" shape-rendering="crispEdges"/>
<rect x="337.42" y="289.01" width="12.32" height="6.87" fill="#039638" shape-rendering="crispEdges"/>
<rect x="349.13" y="289.01" width="12.32" height="6.87" fill="#06b240" shape-rendering="crispEdges"/>
<rect x="360.85" y="289.01" width="12.32" height="6.87" fill="#4c0101" shape-rendering="crispEdges"/>
<rect x="372.57" y="289.01" width="12.32" height="6.87" fill="#ec0606" shape-rendering="crispEdges"/>
<rect x="384.28" y="289.01" width="11.72" height="6.87" fill="#de0505" shape-rendering="crispEdges"/>
<rect x="325.70" y="295.28" width="12.32" height="6.87" fill="#039638" shape-rendering="crispEdges"/>
<rect x="337.42" y="295.28" width="12.32" height="6.87" fill="#039638" shape-rendering="crispEdges"/>
<rect x="349.13" y="295.28" width="12.32" height="6.87" fill="#06b240" shape-rendering="crispEdges"/>
<rect x="360.85" y="295.28" width="12.32" height="6.87" fill="#6c0101" shape-rendering="crispEdges"/>
<rect x="372.57" y="295.28" width="12.32" height="6.87" fill="#ec0606" shape-rendering="crispEdges"/>
<rect x="384.28" y="295.28" width="11.72" height="6.87" fill="#d00404" shape-rendering="crispEdges"/>
<rect x="325.70" y="301.55" width="12.32" height="6.87" fill="#04a43c" shape-rendering="crispEdges"/>
<rect x="337.42" y="301.55" width="12.32" height="6.87" fill="#04a43c" shape-rendering="crispEdges"/>
<rect x="349.13" y="301.55" width="12.32" height="6.87" fill="#06b240" shape-rendering="crispEdges"/>
<rect x="360.85" y="301.55" width="12.32" height="6.87" fill="#8c0202" shape-rendering="crispEdges"/>
<rect x="372.57" y="301.55" width="12.32" height="6.87" fill="#de0505" shape-rendering="crispEdges"/>
<rect x="384.28" y="301.55" width="11.72" height="6.87" fill="#de0505" shape-rendering="crispEdges"/>
<rect x="325.70" y="307.82" width="12.32" height="6.87" fill="#1ec444" shape-rendering="crispEdges"/>
<rect x="337.42" y="307.82" width="12.32" height="6.87" fill="#015825" shape-rendering="crispEdges"/>
<rect x="349.13" y="307.82" width="12.32" height="6.87" fill="#039638" shape-rendering="crispEdges"/>
<rect x="360.85" y="307.82" width="12.32" height="6.87" fill="#ec0606" shape-rendering="crispEdges"/>
<rect x="372.57" y="307.82" width="12.32" height="6.87" fill="#1c0303" shape-rendering="crispEdges"/>
<rect x="384.28" y="307.82" width="11.72" height="6.87" fill="#de0505" shape-rendering="crispEdges"/>
<rect x="325.70" y="314.09" width="12.32" height="6.87" fill="#04a43c" shape-rendering="crispEdges"/>
<rect x="337.42" y="314.09" width="12.32" height="6.87" fill="#020e08" shape-rendering="crispEdges"/>
<rect x="349.13" y="314.09" width="12.32" height="6.87" fill="#1ec444" shape-rendering="crispEdges"/>
<rect x="360.85" y="314.09" width="12.32" height="6.87" fill="#de0505" shape-rendering="crispEdges"/>
<rect x="372.57" y="314.09" width="12.32" height="6.87" fill="#b00303" shape-rendering="crispEdges"/>
<rect x="384.28" y="314.09" width="11.72" height="6.87" fill="#de0505" shape-rendering="crispEdges"/>
<rect x="325.70" y="320.36" width="12.32" height="6.87" fill="#02782f" shape-rendering="crispEdges"/>
<rect x="337.42" y="320.36" width="12.32" height="6.87" fill="#028834" shape-rendering="crispEdges"/>
<rect x="349.13" y="320.36" width="12.32" height="6.87" fill="#1ec444" shape-rendering="crispEdges"/>
<rect x="360.85" y="320.36" width="12.32" height="6.87" fill="#ec0606" shape-rendering="crispEdges"/>
<rect x="372.57" y="320.36" width="12.32" height="6.87" fill="#d00404" shape-rendering="crispEdges"/>
<rect x="384.28" y="320.36" width="11.72" height="6.87" fill="#7c0202" shape-rendering="crispEdges"/>
<rect x="325.70" y="326.64" width="12.32" height="6.87" fill="#02782f" shape-rendering="crispEdges"/>
<rect x="337.42" y="326.64" width="12.32" height="6.87" fill="#028834" shape-rendering="crispEdges"/>
<rect x="349.13" y="326.64" width="12.32" height="6.87" fill="#1ec444" shape-rendering="crispEdges"/>
<rect x="360.85" y="326.64" width="12.32" height="6.87" fill="#de0505" shape-rendering="crispEdges"/>
<rect x="372.57" y="326.64" width="12.32" height="6.87" fill="#d00404" shape-rendering="crispEdges"/>
<rect x="384.28" y="326.64" width="11.72" height="6.87" fill="#d00404" shape-rendering="crispEdges"/>
<rect x="325.70" y="332.91" width="12.32" height="6.87" fill="#02782f" shape-rendering="crispEdges"/>
<rect x="337.42" y="332.91" width="12.32" height="6.87" fill="#04a43c" shape-rendering="crispEdges"/>
<rect x="349.13" y="332.91" width="12.32" height="6.87" fill="#1ec444" shape-rendering="crispEdges"/>
<rect x="360.85" y="332.91" width="12.32" height="6.87" fill="#ec0606" shape-rendering="crispEdges"/>
<rect x="372.57" y="332.91" width="12.32" height="6.87" fill="#6c0101" shape-rendering="crispEdges"/>
<rect x="384.28" y="332.91" width="11.72" height="6.87" fill="#4c0101" shape-rendering="crispEdges"/>
<rect x="325.70" y="339.18" width="12.32" height="6.87" fill="#06b240" shape-rendering="crispEdges"/>
<rect x="337.42" y="339.18" width="12.32" height="6.87" fill="#039638" shape-rendering="crispEdges"/>
<rect x="349.13" y="339.18" width="12.32" height="6.87" fill="#04a43c" shape-rendering="crispEdges"/>
<rect x="360.85" y="339.18" width="12.32" height="6.87" fill="#ec0606" shape-rendering="crispEdges"/>
<rect x="372.57" y="339.18" width="12.32" height="6.87" fill="#8c0202" shape-rendering="crispEdges"/>
<rect x="384.28" y="339.18" width="11.72" height="6.87" fill="#3e0101" shape-rendering="crispEdges"/>
<rect x="325.70" y="345.45" width="12.32" height="6.87" fill="#06b240" shape-rendering="crispEdges"/>
<rect x="337.42" y="345.45" width="12.32" height="6.87" fill="#04a43c" shape-rendering="crispEdges"/>
<rect x="349.13" y="345.45" width="12.32" height="6.87" fill="#039638" shape-rendering="crispEdges"/>
<rect x="360.85" y="345.45" width="12.32" height="6.87" fill="#de0505" shape-rendering="crispEdges"/>
<rect x="372.57" y="345.45" width="12.32" height="6.87" fill="#ec0606" shape-rendering="crispEdges"/>
<rect x="384.28" y="345.45" width="11.72" height="6.87" fill="#3e0101" shape-rendering="crispEdges"/>
<rect x="325.70" y="351.72" width="12.32" height="6.87" fill="#06b240" shape-rendering="crispEdges"/>
<rect x="337.42" y="351.72" width="12.32" height="6.87" fill="#06b240" shape-rendering="crispEdges"/>
<rect x="349.13" y="351.72" width="12.32" height="6.87" fill="#028834" shape-rendering="crispEdges"/>
<rect x="360.85" y="351.72" width="12.32" height="6.87" fill="#d00404" shape-rendering="crispEdges"/>
<rect x="372.57" y="351.72" width="12.32" height="6.87" fill="#d00404" shape-rendering="crispEdges"/>
<rect x="384.28" y="351.72" width="11.72" height="6.87" fill="#b00303" shape-rendering="crispEdges"/>
<rect x="325.70" y="357.99" width="12.32" height="6.87" fill="#06b240" shape-rendering="crispEdges"/>
<rect x="337.42" y="357.99" width="12.32" height="6.87" fill="#028834" shape-rendering="crispEdges"/>
<rect x="349.13" y="357.99" width="12.32" height="6.87" fill="#06b240" shape-rendering="crispEdges"/>
<rect x="360.85" y="357.99" width="12.32" height="6.87" fill="#d00404" shape-rendering="crispEdges"/>
<rect x="372.57" y="357.99" width="12.32" height="6.87" fill="#d00404" shape-rendering="crispEdges"/>
<rect x="384.28" y="357.99" width="11.72" height="6.87" fill="#b00303" shape-rendering="crispEdges"/>
<rect x="325.70" y="364.26" width="12.32" height="6.87" fill="#04a43c" shape-rendering="crispEdges"/>
<rect x="337.42" y="364.26" width="12.32" height="6.87" fill="#02782f" shape-rendering="crispEdges"/>
<rect x="349.13" y="364.26" width="12.32" height="6.87" fill="#06b240" shape-rendering="crispEdges"/>
<rect x="360.85" y="364.26" width="12.32" height="6.87" fill="#d00404" shape-rendering="crispEdges"/>
<rect x="372.57" y="364.26" width="12.32" height="6.87" fill="#d00404" shape-rendering="crispEdges"/>
<rect x="384.28" y="364.26" width="11.72" height="6.87" fill="#b00303" shape-rendering="crispEdges"/>
<rect x="325.70" y="370.53" width="12.32" height="6.27" fill="#04a43c" shape-rendering="crispEdges"/>
<rect x="337.42" y="370.53" width="12.32" height="6.27" fill="#028834" shape-rendering="crispEdges"/>
<rect x="349.13" y="370.53" width="12.32" height="6.27" fill="#06b240" shape-rendering="crispEdges"/>
<rect x="360.85" y="370.53" width="12.32" height="6.27" fill="#d00404" shape-rendering="crispEdges"/>
<rect x="372.57" y="370.53" width="12.32" height="6.27" fill="#d00404" shape-rendering="crispEdges"/>
<rect x="384.28" y="370.53" width="11.72" height="6.27" fill="#b00303" shape-rendering="crispEdges"/>
<rect x="325.70" y="48.40" width="35.15" height="6.30" fill="#fbb800" />
<rect x="360.85" y="48.40" width="35.15" height="6.30" fill="#12b354" />
<text x="399.50" y="54.00" font-size="6.5" text-anchor="start" font-weight="normal" font-style="normal" fill="#222"  stroke="#222" stroke-width="0.12">SampleType</text>
<text x="399.50" y="62.74" font-size="6.3" text-anchor="start" font-weight="normal" font-style="normal" fill="#222"  stroke="#222" stroke-width="0.12">Slc41a2</text>
<text x="399.50" y="69.01" font-size="6.3" text-anchor="start" font-weight="normal" font-style="normal" fill="#222"  stroke="#222" stroke-width="0.12">Slco3a1</text>
<text x="399.50" y="75.28" font-size="6.3" text-anchor="start" font-weight="normal" font-style="normal" fill="#222"  stroke="#222" stroke-width="0.12">Slc7a1</text>
<text x="399.50" y="81.55" font-size="6.3" text-anchor="start" font-weight="normal" font-style="normal" fill="#222"  stroke="#222" stroke-width="0.12">Slc2a3</text>
<text x="399.50" y="87.82" font-size="6.3" text-anchor="start" font-weight="normal" font-style="normal" fill="#222"  stroke="#222" stroke-width="0.12">Slc38a2</text>
<text x="399.50" y="94.09" font-size="6.3" text-anchor="start" font-weight="normal" font-style="normal" fill="#222"  stroke="#222" stroke-width="0.12">Slc39a10</text>
<text x="399.50" y="100.36" font-size="6.3" text-anchor="start" font-weight="normal" font-style="normal" fill="#222"  stroke="#222" stroke-width="0.12">Slc30a9</text>
<text x="399.50" y="106.63" font-size="6.3" text-anchor="start" font-weight="normal" font-style="normal" fill="#222"  stroke="#222" stroke-width="0.12">Slc5a3</text>
<text x="399.50" y="112.90" font-size="6.3" text-anchor="start" font-weight="normal" font-style="normal" fill="#222"  stroke="#222" stroke-width="0.12">Slc16a6</text>
<text x="399.50" y="119.17" font-size="6.3" text-anchor="start" font-weight="normal" font-style="normal" fill="#222"  stroke="#222" stroke-width="0.12">Slc7a11</text>
<text x="399.50" y="125.44" font-size="6.3" text-anchor="start" font-weight="normal" font-style="normal" fill="#222"  stroke="#222" stroke-width="0.12">Slc25a24</text>
<text x="399.50" y="131.71" font-size="6.3" text-anchor="start" font-weight="normal" font-style="normal" fill="#222"  stroke="#222" stroke-width="0.12">Slc15a1</text>
<text x="399.50" y="137.98" font-size="6.3" text-anchor="start" font-weight="normal" font-style="normal" fill="#222"  stroke="#222" stroke-width="0.12">Slc30a4</text>
<text x="399.50" y="144.25" font-size="6.3" text-anchor="start" font-weight="normal" font-style="normal" fill="#222"  stroke="#222" stroke-width="0.12">Slc3a2</text>
<text x="399.50" y="150.52" font-size="6.3" text-anchor="start" font-weight="normal" font-style="normal" fill="#222"  stroke="#222" stroke-width="0.12">Slc7a5</text>
<text x="399.50" y="156.79" font-size="6.3" text-anchor="start" font-weight="normal" font-style="normal" fill="#222"  stroke="#222" stroke-width="0.12">Slc1a5</text>
<text x="399.50" y="163.06" font-size="6.3" text-anchor="start" font-weight="normal" font-style="normal" fill="#222"  stroke="#222" stroke-width="0.12">Slc6a9</text>
<text x="399.50" y="169.34" font-size="6.3" text-anchor="start" font-weight="normal" font-style="normal" fill="#222"  stroke="#222" stroke-width="0.12">Slc16a3</text>
<text x="399.50" y="175.61" font-size="6.3" text-anchor="start" font-weight="normal" font-style="normal" fill="#222"  stroke="#222" stroke-width="0.12">Slc15a3</text>
<text x="399.50" y="181.88" font-size="6.3" text-anchor="start" font-weight="normal" font-style="normal" fill="#222"  stroke="#222" stroke-width="0.12">Slc1a4</text>
<text x="399.50" y="188.15" font-size="6.3" text-anchor="start" font-weight="normal" font-style="normal" fill="#222"  stroke="#222" stroke-width="0.12">Slc2a6</text>
<text x="399.50" y="194.42" font-size="6.3" text-anchor="start" font-weight="normal" font-style="normal" fill="#222"  stroke="#222" stroke-width="0.12">Slc7a3</text>
<text x="399.50" y="200.69" font-size="6.3" text-anchor="start" font-weight="normal" font-style="normal" fill="#222"  stroke="#222" stroke-width="0.12">Slc37a2</text>
<text x="399.50" y="206.96" font-size="6.3" text-anchor="start" font-weight="normal" font-style="normal" fill="#222"  stroke="#222" stroke-width="0.12">Slc16a10</text>
<text x="399.50" y="213.23" font-size="6.3" text-anchor="start" font-weight="normal" font-style="normal" fill="#222"  stroke="#222" stroke-width="0.12">Slc25a3</text>
<text x="399.50" y="219.50" font-size="6.3" text-anchor="start" font-weight="normal" font-style="normal" fill="#222"  stroke="#222" stroke-width="0.12">Slc37a4</text>
<text x="399.50" y="225.77" font-size="6.3" text-anchor="start" font-weight="normal" font-style="normal" fill="#222"  stroke="#222" stroke-width="0.12">Slc35d3</text>
<text x="399.50" y="232.04" font-size="6.3" text-anchor="start" font-weight="normal" font-style="normal" fill="#222"  stroke="#222" stroke-width="0.12">Slc6a6</text>
<text x="399.50" y="238.31" font-size="6.3" text-anchor="start" font-weight="normal" font-style="normal" fill="#222"  stroke="#222" stroke-width="0.12">Slc4a2</text>
<text x="399.50" y="244.58" font-size="6.3" text-anchor="start" font-weight="normal" font-style="normal" fill="#222"  stroke="#222" stroke-width="0.12">Slc2a1</text>
<text x="399.50" y="250.85" font-size="6.3" text-anchor="start" font-weight="normal" font-style="normal" fill="#222"  stroke="#222" stroke-width="0.12">Slc35e4</text>
<text x="399.50" y="257.12" font-size="6.3" text-anchor="start" font-weight="normal" font-style="normal" fill="#222"  stroke="#222" stroke-width="0.12">Slc24a3</text>
<text x="399.50" y="263.39" font-size="6.3" text-anchor="start" font-weight="normal" font-style="normal" fill="#222"  stroke="#222" stroke-width="0.12">Slc27a6</text>
<text x="399.50" y="269.66" font-size="6.3" text-anchor="start" font-weight="normal" font-style="normal" fill="#222"  stroke="#222" stroke-width="0.12">Slco4a1</text>
<text x="399.50" y="275.94" font-size="6.3" text-anchor="start" font-weight="normal" font-style="normal" fill="#222"  stroke="#222" stroke-width="0.12">Slc27a4</text>
<text x="399.50" y="282.21" font-size="6.3" text-anchor="start" font-weight="normal" font-style="normal" fill="#222"  stroke="#222" stroke-width="0.12">Slc25a32</text>
<text x="399.50" y="288.48" font-size="6.3" text-anchor="start" font-weight="normal" font-style="normal" fill="#222"  stroke="#222" stroke-width="0.12">Slc26a6</text>
<text x="399.50" y="294.75" font-size="6.3" text-anchor="start" font-weight="normal" font-style="normal" fill="#222"  stroke="#222" stroke-width="0.12">Slc26a2</text>
<text x="399.50" y="301.02" font-size="6.3" text-anchor="start" font-weight="normal" font-style="normal" fill="#222"  stroke="#222" stroke-width="0.12">Slc16a1</text>
<text x="399.50" y="307.29" font-size="6.3" text-anchor="start" font-weight="normal" font-style="normal" fill="#222"  stroke="#222" stroke-width="0.12">Slc10a3</text>
<text x="399.50" y="313.56" font-size="6.3" text-anchor="start" font-weight="normal" font-style="normal" fill="#222"  stroke="#222" stroke-width="0.12">Slc28a2b</text>
<text x="399.50" y="319.83" font-size="6.3" text-anchor="start" font-weight="normal" font-style="normal" fill="#222"  stroke="#222" stroke-width="0.12">Slc35f2</text>
<text x="399.50" y="326.10" font-size="6.3" text-anchor="start" font-weight="normal" font-style="normal" fill="#222"  stroke="#222" stroke-width="0.12">Slc29a1</text>
<text x="399.50" y="332.37" font-size="6.3" text-anchor="start" font-weight="normal" font-style="normal" fill="#222"  stroke="#222" stroke-width="0.12">Slc20a1</text>
<text x="399.50" y="338.64" font-size="6.3" text-anchor="start" font-weight="normal" font-style="normal" fill="#222"  stroke="#222" stroke-width="0.12">Slc25a10</text>
<text x="399.50" y="344.91" font-size="6.3" text-anchor="start" font-weight="normal" font-style="normal" fill="#222"  stroke="#222" stroke-width="0.12">Slc43a3</text>
<text x="399.50" y="351.18" font-size="6.3" text-anchor="start" font-weight="normal" font-style="normal" fill="#222"  stroke="#222" stroke-width="0.12">Slc35b1</text>
<text x="399.50" y="357.45" font-size="6.3" text-anchor="start" font-weight="normal" font-style="normal" fill="#222"  stroke="#222" stroke-width="0.12">Slc5a6</text>
<text x="399.50" y="363.72" font-size="6.3" text-anchor="start" font-weight="normal" font-style="normal" fill="#222"  stroke="#222" stroke-width="0.12">Slc6a12</text>
<text x="399.50" y="369.99" font-size="6.3" text-anchor="start" font-weight="normal" font-style="normal" fill="#222"  stroke="#222" stroke-width="0.12">Slc7a6os</text>
<text x="399.50" y="376.26" font-size="6.3" text-anchor="start" font-weight="normal" font-style="normal" fill="#222"  stroke="#222" stroke-width="0.12">Slc30a3</text>
<polyline points="331.56,47.80 331.56,39.70 343.27,39.70 343.27,47.80" fill="none" stroke="#2a2a2a" stroke-width="1.2"/>
<polyline points="337.42,39.70 337.42,36.30 354.99,36.30 354.99,47.80" fill="none" stroke="#2a2a2a" stroke-width="1.2"/>
<polyline points="378.43,47.80 378.43,37.70 390.14,37.70 390.14,47.80" fill="none" stroke="#2a2a2a" stroke-width="1.2"/>
<polyline points="366.71,47.80 366.71,35.30 384.28,35.30 384.28,37.70" fill="none" stroke="#2a2a2a" stroke-width="1.2"/>
<polyline points="346.20,36.30 346.20,6.50 375.50,6.50 375.50,35.30" fill="none" stroke="#2a2a2a" stroke-width="1.2"/>
<polyline points="325.70,60.14 324.80,60.14 324.80,66.41 325.70,66.41" fill="none" stroke="#2a2a2a" stroke-width="1.2"/>
<polyline points="324.80,63.27 323.80,63.27 323.80,72.68 325.70,72.68" fill="none" stroke="#2a2a2a" stroke-width="1.2"/>
<polyline points="325.70,78.95 324.50,78.95 324.50,85.22 325.70,85.22" fill="none" stroke="#2a2a2a" stroke-width="1.2"/>
<polyline points="323.80,67.97 322.20,67.97 322.20,82.08 324.50,82.08" fill="none" stroke="#2a2a2a" stroke-width="1.2"/>
<polyline points="325.70,97.76 325.00,97.76 325.00,104.03 325.70,104.03" fill="none" stroke="#2a2a2a" stroke-width="1.2"/>
<polyline points="325.70,91.49 324.50,91.49 324.50,100.89 325.00,100.89" fill="none" stroke="#2a2a2a" stroke-width="1.2"/>
<polyline points="322.20,75.03 320.30,75.03 320.30,96.19 324.50,96.19" fill="none" stroke="#2a2a2a" stroke-width="1.2"/>
<polyline points="325.70,116.57 324.50,116.57 324.50,122.84 325.70,122.84" fill="none" stroke="#2a2a2a" stroke-width="1.2"/>
<polyline points="325.70,110.30 323.00,110.30 323.00,119.71 324.50,119.71" fill="none" stroke="#2a2a2a" stroke-width="1.2"/>
<polyline points="320.30,85.61 318.60,85.61 318.60,115.00 323.00,115.00" fill="none" stroke="#2a2a2a" stroke-width="1.2"/>
<polyline points="325.70,129.11 322.00,129.11 322.00,135.38 325.70,135.38" fill="none" stroke="#2a2a2a" stroke-width="1.2"/>
<polyline points="318.60,100.31 316.60,100.31 316.60,132.25 322.00,132.25" fill="none" stroke="#2a2a2a" stroke-width="1.2"/>
<polyline points="325.70,141.65 323.00,141.65 323.00,147.92 325.70,147.92" fill="none" stroke="#2a2a2a" stroke-width="1.2"/>
<polyline points="325.70,154.19 322.50,154.19 322.50,160.46 325.70,160.46" fill="none" stroke="#2a2a2a" stroke-width="1.2"/>
<polyline points="323.00,144.79 320.00,144.79 320.00,157.33 322.50,157.33" fill="none" stroke="#2a2a2a" stroke-width="1.2"/>
<polyline points="325.70,166.74 323.50,166.74 323.50,173.01 325.70,173.01" fill="none" stroke="#2a2a2a" stroke-width="1.2"/>
<polyline points="325.70,185.55 324.00,185.55 324.00,191.82 325.70,191.82" fill="none" stroke="#2a2a2a" stroke-width="1.2"/>
<polyline points="325.70,179.28 322.00,179.28 322.00,188.68 324.00,188.68" fill="none" stroke="#2a2a2a" stroke-width="1.2"/>
<polyline points="323.50,169.87 320.50,169.87 320.50,183.98 322.00,183.98" fill="none" stroke="#2a2a2a" stroke-width="1.2"/>
<polyline points="320.00,151.06 318.00,151.06 318.00,176.93 320.50,176.93" fill="none" stroke="#2a2a2a" stroke-width="1.2"/>
<polyline points="325.70,204.36 323.00,204.36 323.00,210.63 325.70,210.63" fill="none" stroke="#2a2a2a" stroke-width="1.2"/>
<polyline points="325.70,198.09 316.60,198.09 316.60,207.49 323.00,207.49" fill="none" stroke="#2a2a2a" stroke-width="1.2"/>
<polyline points="318.00,163.99 314.50,163.99 314.50,202.79 316.60,202.79" fill="none" stroke="#2a2a2a" stroke-width="1.2"/>
<polyline points="316.60,116.28 312.50,116.28 312.50,183.39 314.50,183.39" fill="none" stroke="#2a2a2a" stroke-width="1.2"/>
<polyline points="325.70,216.90 317.60,216.90 317.60,223.17 325.70,223.17" fill="none" stroke="#2a2a2a" stroke-width="1.2"/>
<polyline points="312.50,149.83 310.80,149.83 310.80,220.04 317.60,220.04" fill="none" stroke="#2a2a2a" stroke-width="1.2"/>
<polyline points="325.70,229.44 322.00,229.44 322.00,235.71 325.70,235.71" fill="none" stroke="#2a2a2a" stroke-width="1.2"/>
<polyline points="325.70,241.98 321.50,241.98 321.50,248.25 325.70,248.25" fill="none" stroke="#2a2a2a" stroke-width="1.2"/>
<polyline points="322.00,232.58 318.50,232.58 318.50,245.12 321.50,245.12" fill="none" stroke="#2a2a2a" stroke-width="1.2"/>
<polyline points="325.70,254.52 321.00,254.52 321.00,260.79 325.70,260.79" fill="none" stroke="#2a2a2a" stroke-width="1.2"/>
<polyline points="318.50,238.85 316.60,238.85 316.60,257.66 321.00,257.66" fill="none" stroke="#2a2a2a" stroke-width="1.2"/>
<polyline points="325.70,267.06 320.50,267.06 320.50,273.34 325.70,273.34" fill="none" stroke="#2a2a2a" stroke-width="1.2"/>
<polyline points="316.60,248.25 315.40,248.25 315.40,270.20 320.50,270.20" fill="none" stroke="#2a2a2a" stroke-width="1.2"/>
<polyline points="310.80,184.93 307.40,184.93 307.40,259.23 315.40,259.23" fill="none" stroke="#2a2a2a" stroke-width="1.2"/>
<polyline points="325.70,279.61 316.30,279.61 316.30,285.88 325.70,285.88" fill="none" stroke="#2a2a2a" stroke-width="1.2"/>
<polyline points="325.70,298.42 323.00,298.42 323.00,304.69 325.70,304.69" fill="none" stroke="#2a2a2a" stroke-width="1.2"/>
<polyline points="325.70,292.15 320.00,292.15 320.00,301.55 323.00,301.55" fill="none" stroke="#2a2a2a" stroke-width="1.2"/>
<polyline points="316.30,282.74 310.70,282.74 310.70,296.85 320.00,296.85" fill="none" stroke="#2a2a2a" stroke-width="1.2"/>
<polyline points="325.70,310.96 318.00,310.96 318.00,317.23 325.70,317.23" fill="none" stroke="#2a2a2a" stroke-width="1.2"/>
<polyline points="325.70,323.50 321.00,323.50 321.00,329.77 325.70,329.77" fill="none" stroke="#2a2a2a" stroke-width="1.2"/>
<polyline points="325.70,336.04 321.00,336.04 321.00,342.31 325.70,342.31" fill="none" stroke="#2a2a2a" stroke-width="1.2"/>
<polyline points="325.70,348.58 322.50,348.58 322.50,354.85 325.70,354.85" fill="none" stroke="#2a2a2a" stroke-width="1.2"/>
<polyline points="325.70,361.12 323.50,361.12 323.50,367.39 325.70,367.39" fill="none" stroke="#2a2a2a" stroke-width="1.2"/>
<polyline points="323.50,364.26 322.00,364.26 322.00,373.66 325.70,373.66" fill="none" stroke="#2a2a2a" stroke-width="1.2"/>
<polyline points="322.50,351.72 319.00,351.72 319.00,368.96 322.00,368.96" fill="none" stroke="#2a2a2a" stroke-width="1.2"/>
<polyline points="321.00,339.18 316.00,339.18 316.00,360.34 319.00,360.34" fill="none" stroke="#2a2a2a" stroke-width="1.2"/>
<polyline points="321.00,326.64 314.60,326.64 314.60,349.76 316.00,349.76" fill="none" stroke="#2a2a2a" stroke-width="1.2"/>
<polyline points="318.00,314.09 312.40,314.09 312.40,338.20 314.60,338.20" fill="none" stroke="#2a2a2a" stroke-width="1.2"/>
<polyline points="310.70,289.80 306.80,289.80 306.80,326.15 312.40,326.15" fill="none" stroke="#2a2a2a" stroke-width="1.2"/>
<polyline points="307.40,222.08 284.80,222.08 284.80,307.97 306.80,307.97" fill="none" stroke="#2a2a2a" stroke-width="1.2"/>
<defs><linearGradient id="cb" x1="0" y1="0" x2="0" y2="1"><stop offset="0" stop-color="#ff0000"/><stop offset="0.2" stop-color="#dc0000"/><stop offset="0.33" stop-color="#900000"/><stop offset="0.43" stop-color="#250000"/><stop offset="0.5" stop-color="#000000"/><stop offset="0.56" stop-color="#02200f"/><stop offset="0.66" stop-color="#066a30"/><stop offset="0.8" stop-color="#0ca03c"/><stop offset="0.9" stop-color="#14bc34"/><stop offset="0.95" stop-color="#22bb30"/><stop offset="1" stop-color="#3a8a3a"/></linearGradient></defs>
<rect x="441.90" y="48.00" width="8.20" height="117.60" fill="url(#cb)" />
<text x="452.80" y="55.20" font-size="6.3" text-anchor="start" font-weight="normal" font-style="normal" fill="#222"  stroke="#222" stroke-width="0.12">1.5</text>
<text x="452.80" y="73.20" font-size="6.3" text-anchor="start" font-weight="normal" font-style="normal" fill="#222"  stroke="#222" stroke-width="0.12">1</text>
<text x="452.80" y="91.40" font-size="6.3" text-anchor="start" font-weight="normal" font-style="normal" fill="#222"  stroke="#222" stroke-width="0.12">0.5</text>
<text x="452.80" y="109.20" font-size="6.3" text-anchor="start" font-weight="normal" font-style="normal" fill="#222"  stroke="#222" stroke-width="0.12">0</text>
<text x="452.80" y="126.90" font-size="6.3" text-anchor="start" font-weight="normal" font-style="normal" fill="#222"  stroke="#222" stroke-width="0.12">&#8722;0.5</text>
<text x="452.80" y="145.20" font-size="6.3" text-anchor="start" font-weight="normal" font-style="normal" fill="#222"  stroke="#222" stroke-width="0.12">&#8722;1</text>
<text x="452.80" y="163.20" font-size="6.3" text-anchor="start" font-weight="normal" font-style="normal" fill="#222"  stroke="#222" stroke-width="0.12">&#8722;1.5</text>
<text x="441.90" y="180.50" font-size="6.5" text-anchor="start" font-weight="normal" font-style="normal" fill="#222"  stroke="#222" stroke-width="0.12">SampleType</text>
<rect x="441.90" y="185.40" width="8.90" height="8.40" fill="#12b556" />
<rect x="441.90" y="193.60" width="8.90" height="9.00" fill="#fbb900" />
<text x="454.6" y="191.6" font-size="6.5" fill="#222" stroke="#222" stroke-width="0.12"><tspan font-style="italic">Bcma</tspan>-CART</text>
<text x="454.6" y="200.4" font-size="6.5" fill="#222" stroke="#222" stroke-width="0.12"><tspan font-style="italic">Asct2 Bcma</tspan>-CART</text>
<text x="137.70" y="413.50" font-size="9.2" text-anchor="middle" font-weight="normal" font-style="normal" fill="#222"  stroke="#222" stroke-width="0.12">Unstimulated</text>
<rect x="128.70" y="421.00" width="112.50" height="5.80" fill="#e60d0b" />
<text x="124.50" y="426.10" font-size="6.35" text-anchor="end" font-weight="normal" font-style="normal" fill="#222" letter-spacing="0.1" stroke="#222" stroke-width="0.12">MTORC1 SIGNALING</text>
<rect x="128.70" y="428.47" width="105.30" height="5.80" fill="#ee3b22" />
<text x="124.50" y="433.57" font-size="6.35" text-anchor="end" font-weight="normal" font-style="normal" fill="#222" letter-spacing="0.1" stroke="#222" stroke-width="0.12">MYC TARGETS V1</text>
<rect x="128.70" y="435.94" width="98.10" height="5.80" fill="#f04c2f" />
<text x="124.50" y="441.04" font-size="6.35" text-anchor="end" font-weight="normal" font-style="normal" fill="#222" letter-spacing="0.1" stroke="#222" stroke-width="0.12">CHOLESTEROL HOMEOSTASIS</text>
<rect x="128.70" y="443.41" width="91.20" height="5.80" fill="#f2603f" />
<text x="124.50" y="448.51" font-size="6.35" text-anchor="end" font-weight="normal" font-style="normal" fill="#222" letter-spacing="0.1" stroke="#222" stroke-width="0.12">OXIDATIVE PHOSPHORYLATION</text>
<rect x="128.70" y="450.88" width="84.30" height="5.80" fill="#f36d4d" />
<text x="124.50" y="455.98" font-size="6.35" text-anchor="end" font-weight="normal" font-style="normal" fill="#222" letter-spacing="0.1" stroke="#222" stroke-width="0.12">MYC TARGETS V2</text>
<rect x="128.70" y="458.35" width="77.30" height="5.80" fill="#f47a5a" />
<text x="124.50" y="463.45" font-size="6.35" text-anchor="end" font-weight="normal" font-style="normal" fill="#222" letter-spacing="0.1" stroke="#222" stroke-width="0.12">G2M CHECKPOINT</text>
<rect x="128.70" y="465.82" width="77.10" height="5.80" fill="#f47b5b" />
<text x="124.50" y="470.92" font-size="6.35" text-anchor="end" font-weight="normal" font-style="normal" fill="#222" letter-spacing="0.1" stroke="#222" stroke-width="0.12">FATTY ACID METABOLISM</text>
<rect x="128.70" y="473.29" width="76.40" height="5.80" fill="#f47e5e" />
<text x="124.50" y="478.39" font-size="6.35" text-anchor="end" font-weight="normal" font-style="normal" fill="#222" letter-spacing="0.1" stroke="#222" stroke-width="0.12">GLYCOLYSIS</text>
<rect x="128.70" y="480.76" width="68.30" height="5.80" fill="#f68e70" />
<text x="124.50" y="485.86" font-size="6.35" text-anchor="end" font-weight="normal" font-style="normal" fill="#222" letter-spacing="0.1" stroke="#222" stroke-width="0.12">IL2 STAT5 SIGNALING</text>
<rect x="128.70" y="488.23" width="57.70" height="5.80" fill="#f8a78e" />
<text x="124.50" y="493.33" font-size="6.35" text-anchor="end" font-weight="normal" font-style="normal" fill="#222" letter-spacing="0.1" stroke="#222" stroke-width="0.12">HYPOXIA</text>
<rect x="49.20" y="495.70" width="77.30" height="5.80" fill="#d2d2d2" />
<text x="130.10" y="500.80" font-size="6.35" text-anchor="start" font-weight="normal" font-style="normal" fill="#222" letter-spacing="0.1" stroke="#222" stroke-width="0.12">IL6 JAK STAT3 SIGNALING</text>
<rect x="49.20" y="503.17" width="77.30" height="5.80" fill="#d2d2d2" />
<text x="130.10" y="508.27" font-size="6.35" text-anchor="start" font-weight="normal" font-style="normal" fill="#222" letter-spacing="0.1" stroke="#222" stroke-width="0.12">WNT BETA CATENIN SIGNALING</text>
<rect x="49.20" y="510.64" width="77.30" height="5.80" fill="#d2d2d2" />
<text x="130.10" y="515.74" font-size="6.35" text-anchor="start" font-weight="normal" font-style="normal" fill="#222" letter-spacing="0.1" stroke="#222" stroke-width="0.12">INFLAMMATORY RESPONSE</text>
<rect x="48.20" y="518.11" width="78.30" height="5.80" fill="#d2d2d2" />
<text x="130.10" y="523.21" font-size="6.35" text-anchor="start" font-weight="normal" font-style="normal" fill="#222" letter-spacing="0.1" stroke="#222" stroke-width="0.12">TGF BETA SIGNALING</text>
<rect x="38.30" y="525.58" width="88.20" height="5.80" fill="#d0d0d0" />
<text x="130.10" y="530.68" font-size="6.35" text-anchor="start" font-weight="normal" font-style="normal" fill="#222" letter-spacing="0.1" stroke="#222" stroke-width="0.12">TNFA SIGNALING VIA NFKB</text>
<rect x="36.80" y="533.05" width="89.70" height="5.80" fill="#d0d0d0" />
<text x="130.10" y="538.15" font-size="6.35" text-anchor="start" font-weight="normal" font-style="normal" fill="#222" letter-spacing="0.1" stroke="#222" stroke-width="0.12">INTERFERON GAMMA RESPONSE</text>
<rect x="34.50" y="540.52" width="92.00" height="5.80" fill="#d0d0d0" />
<text x="130.10" y="545.62" font-size="6.35" text-anchor="start" font-weight="normal" font-style="normal" fill="#222" letter-spacing="0.1" stroke="#222" stroke-width="0.12">INTERFERON ALPHA RESPONSE</text>
<line x1="128.00" y1="419.60" x2="128.00" y2="548.30" stroke="#222" stroke-width="1.3" />
<line x1="23.60" y1="548.30" x2="251.90" y2="548.30" stroke="#222" stroke-width="1.4" />
<line x1="42.50" y1="548.30" x2="42.50" y2="551.40" stroke="#222" stroke-width="1.0" />
<text x="42.50" y="560.00" font-size="6.5" text-anchor="middle" font-weight="normal" font-style="normal" fill="#333"  stroke="#333" stroke-width="0.12">&#8722;2</text>
<line x1="85.25" y1="548.30" x2="85.25" y2="551.40" stroke="#222" stroke-width="1.0" />
<text x="85.25" y="560.00" font-size="6.5" text-anchor="middle" font-weight="normal" font-style="normal" fill="#333"  stroke="#333" stroke-width="0.12">&#8722;1</text>
<line x1="128.00" y1="548.30" x2="128.00" y2="551.40" stroke="#222" stroke-width="1.0" />
<text x="128.00" y="560.00" font-size="6.5" text-anchor="middle" font-weight="normal" font-style="normal" fill="#333"  stroke="#333" stroke-width="0.12">0</text>
<line x1="170.75" y1="548.30" x2="170.75" y2="551.40" stroke="#222" stroke-width="1.0" />
<text x="170.75" y="560.00" font-size="6.5" text-anchor="middle" font-weight="normal" font-style="normal" fill="#333"  stroke="#333" stroke-width="0.12">1</text>
<line x1="213.50" y1="548.30" x2="213.50" y2="551.40" stroke="#222" stroke-width="1.0" />
<text x="213.50" y="560.00" font-size="6.5" text-anchor="middle" font-weight="normal" font-style="normal" fill="#333"  stroke="#333" stroke-width="0.12">2</text>
<text x="137.80" y="572.6" font-size="8.2" text-anchor="middle" fill="#333" textLength="11.8" lengthAdjust="spacingAndGlyphs" stroke="#333" stroke-width="0.12">NES</text>
<text x="394.00" y="413.50" font-size="9.2" text-anchor="middle" font-weight="normal" font-style="normal" fill="#222"  stroke="#222" stroke-width="0.12">Stimulated</text>
<rect x="398.90" y="421.00" width="98.60" height="5.80" fill="#f03c1f" />
<text x="394.70" y="426.10" font-size="6.35" text-anchor="end" font-weight="normal" font-style="normal" fill="#222" letter-spacing="0.1" stroke="#222" stroke-width="0.12">HYPOXIA</text>
<rect x="398.90" y="428.47" width="97.10" height="5.80" fill="#f03c1f" />
<text x="394.70" y="433.57" font-size="6.35" text-anchor="end" font-weight="normal" font-style="normal" fill="#222" letter-spacing="0.1" stroke="#222" stroke-width="0.12">CHOLESTEROL HOMEOSTASIS</text>
<rect x="398.90" y="435.94" width="89.70" height="5.80" fill="#f25937" />
<text x="394.70" y="441.04" font-size="6.35" text-anchor="end" font-weight="normal" font-style="normal" fill="#222" letter-spacing="0.1" stroke="#222" stroke-width="0.12">TNFA SIGNALING VIA NFKB</text>
<rect x="398.90" y="443.41" width="71.60" height="5.80" fill="#f47e5e" />
<text x="394.70" y="448.51" font-size="6.35" text-anchor="end" font-weight="normal" font-style="normal" fill="#222" letter-spacing="0.1" stroke="#222" stroke-width="0.12">IL2 STAT5 SIGNALING</text>
<rect x="398.90" y="450.88" width="69.10" height="5.80" fill="#f47f60" />
<text x="394.70" y="455.98" font-size="6.35" text-anchor="end" font-weight="normal" font-style="normal" fill="#222" letter-spacing="0.1" stroke="#222" stroke-width="0.12">MTORC1 SIGNALING</text>
<rect x="398.90" y="458.35" width="64.10" height="5.80" fill="#f68a6b" />
<text x="394.70" y="463.45" font-size="6.35" text-anchor="end" font-weight="normal" font-style="normal" fill="#222" letter-spacing="0.1" stroke="#222" stroke-width="0.12">GLYCOLYSIS</text>
<rect x="398.90" y="465.82" width="57.10" height="5.80" fill="#f8a089" />
<text x="394.70" y="470.92" font-size="6.35" text-anchor="end" font-weight="normal" font-style="normal" fill="#222" letter-spacing="0.1" stroke="#222" stroke-width="0.12">INFLAMMATORY RESPONSE</text>
<text x="394.70" y="478.39" font-size="6.35" text-anchor="end" font-weight="normal" font-style="normal" fill="#222" letter-spacing="0.1" stroke="#222" stroke-width="0.12">TGF BETA SIGNALING</text>
<text x="394.70" y="485.86" font-size="6.35" text-anchor="end" font-weight="normal" font-style="normal" fill="#222" letter-spacing="0.1" stroke="#222" stroke-width="0.12">IL6 JAK STAT3 SIGNALING</text>
<text x="394.70" y="493.33" font-size="6.35" text-anchor="end" font-weight="normal" font-style="normal" fill="#222" letter-spacing="0.1" stroke="#222" stroke-width="0.12">WNT BETA CATENIN SIGNALING</text>
<text x="401.60" y="500.80" font-size="6.35" text-anchor="start" font-weight="normal" font-style="normal" fill="#222" letter-spacing="0.1" stroke="#222" stroke-width="0.12">INTERFERON ALPHA RESPONSE</text>
<rect x="348.10" y="503.17" width="48.60" height="5.80" fill="#dcdcdc" />
<text x="401.60" y="508.27" font-size="6.35" text-anchor="start" font-weight="normal" font-style="normal" fill="#222" letter-spacing="0.1" stroke="#222" stroke-width="0.12">FATTY ACID METABOLISM</text>
<rect x="343.20" y="510.64" width="53.50" height="5.80" fill="#d6d6d6" />
<text x="401.60" y="515.74" font-size="6.35" text-anchor="start" font-weight="normal" font-style="normal" fill="#222" letter-spacing="0.1" stroke="#222" stroke-width="0.12">INTERFERON GAMMA RESPONSE</text>
<rect x="327.90" y="518.11" width="68.80" height="5.80" fill="#cecece" />
<text x="401.60" y="523.21" font-size="6.35" text-anchor="start" font-weight="normal" font-style="normal" fill="#222" letter-spacing="0.1" stroke="#222" stroke-width="0.12">OXIDATIVE PHOSPHORYLATION</text>
<rect x="312.00" y="525.58" width="84.70" height="5.80" fill="#c6c6c6" />
<text x="401.60" y="530.68" font-size="6.35" text-anchor="start" font-weight="normal" font-style="normal" fill="#222" letter-spacing="0.1" stroke="#222" stroke-width="0.12">G2M CHECKPOINT</text>
<rect x="301.00" y="533.05" width="95.70" height="5.80" fill="#bebebe" />
<text x="401.60" y="538.15" font-size="6.35" text-anchor="start" font-weight="normal" font-style="normal" fill="#222" letter-spacing="0.1" stroke="#222" stroke-width="0.12">MYC TARGETS V2</text>
<rect x="290.60" y="540.52" width="106.10" height="5.80" fill="#b4b4b4" />
<text x="401.60" y="545.62" font-size="6.35" text-anchor="start" font-weight="normal" font-style="normal" fill="#222" letter-spacing="0.1" stroke="#222" stroke-width="0.12">MYC TARGETS V1</text>
<line x1="398.20" y1="419.60" x2="398.20" y2="548.30" stroke="#222" stroke-width="1.3" />
<line x1="280.00" y1="548.30" x2="509.90" y2="548.30" stroke="#222" stroke-width="1.4" />
<line x1="289.60" y1="548.30" x2="289.60" y2="551.40" stroke="#222" stroke-width="1.0" />
<text x="289.60" y="560.00" font-size="6.5" text-anchor="middle" font-weight="normal" font-style="normal" fill="#333"  stroke="#333" stroke-width="0.12">&#8722;3</text>
<line x1="325.80" y1="548.30" x2="325.80" y2="551.40" stroke="#222" stroke-width="1.0" />
<text x="325.80" y="560.00" font-size="6.5" text-anchor="middle" font-weight="normal" font-style="normal" fill="#333"  stroke="#333" stroke-width="0.12">&#8722;2</text>
<line x1="362.00" y1="548.30" x2="362.00" y2="551.40" stroke="#222" stroke-width="1.0" />
<text x="362.00" y="560.00" font-size="6.5" text-anchor="middle" font-weight="normal" font-style="normal" fill="#333"  stroke="#333" stroke-width="0.12">&#8722;1</text>
<line x1="398.20" y1="548.30" x2="398.20" y2="551.40" stroke="#222" stroke-width="1.0" />
<text x="398.20" y="560.00" font-size="6.5" text-anchor="middle" font-weight="normal" font-style="normal" fill="#333"  stroke="#333" stroke-width="0.12">0</text>
<line x1="434.40" y1="548.30" x2="434.40" y2="551.40" stroke="#222" stroke-width="1.0" />
<text x="434.40" y="560.00" font-size="6.5" text-anchor="middle" font-weight="normal" font-style="normal" fill="#333"  stroke="#333" stroke-width="0.12">1</text>
<line x1="470.60" y1="548.30" x2="470.60" y2="551.40" stroke="#222" stroke-width="1.0" />
<text x="470.60" y="560.00" font-size="6.5" text-anchor="middle" font-weight="normal" font-style="normal" fill="#333"  stroke="#333" stroke-width="0.12">2</text>
<line x1="506.80" y1="548.30" x2="506.80" y2="551.40" stroke="#222" stroke-width="1.0" />
<text x="506.80" y="560.00" font-size="6.5" text-anchor="middle" font-weight="normal" font-style="normal" fill="#333"  stroke="#333" stroke-width="0.12">3</text>
<text x="394.00" y="572.6" font-size="8.2" text-anchor="middle" fill="#333" textLength="11.8" lengthAdjust="spacingAndGlyphs" stroke="#333" stroke-width="0.12">NES</text>
<polygon points="16.00,595.30 36.10,584.30 46.50,584.30 46.50,587.60 136.40,587.60 136.40,610.70 46.50,610.70 46.50,613.40 36.10,613.40 16.00,601.00" fill="#b3b3b3"/>
<polygon points="136.20,587.60 226.10,587.60 226.10,584.30 236.50,584.30 256.70,595.80 256.70,602.10 236.50,613.60 226.10,613.60 226.10,610.70 136.20,610.70" fill="#fb0f0f"/>
<text x="76.00" y="601.50" font-size="6.5" text-anchor="middle" font-weight="normal" font-style="normal" fill="#f4f4f4"  stroke="#f4f4f4" stroke-width="0.12">High in Bcma-CART</text>
<text x="196.5" y="601.5" font-size="6.5" text-anchor="middle" fill="#ffe8e8" stroke="#ffe8e8" stroke-width="0.12">High in <tspan font-style="italic">Asct2 Bcma</tspan>-CART</text>
<polygon points="272.00,595.30 292.10,584.30 303.00,584.30 303.00,587.60 393.00,587.60 393.00,610.70 303.00,610.70 303.00,613.40 292.10,613.40 272.00,601.00" fill="#b3b3b3"/>
<polygon points="392.90,587.60 482.40,587.60 482.40,584.30 493.20,584.30 513.40,595.80 513.40,602.10 493.20,613.60 482.40,613.60 482.40,610.70 392.90,610.70" fill="#fb0f0f"/>
<text x="333.20" y="601.50" font-size="6.5" text-anchor="middle" font-weight="normal" font-style="normal" fill="#f4f4f4"  stroke="#f4f4f4" stroke-width="0.12">High in Bcma-CART</text>
<text x="452.7" y="601.5" font-size="6.5" text-anchor="middle" fill="#ffe8e8" stroke="#ffe8e8" stroke-width="0.12">High in <tspan font-style="italic">Asct2 Bcma</tspan>-CART</text>
</svg>
</body></html>
